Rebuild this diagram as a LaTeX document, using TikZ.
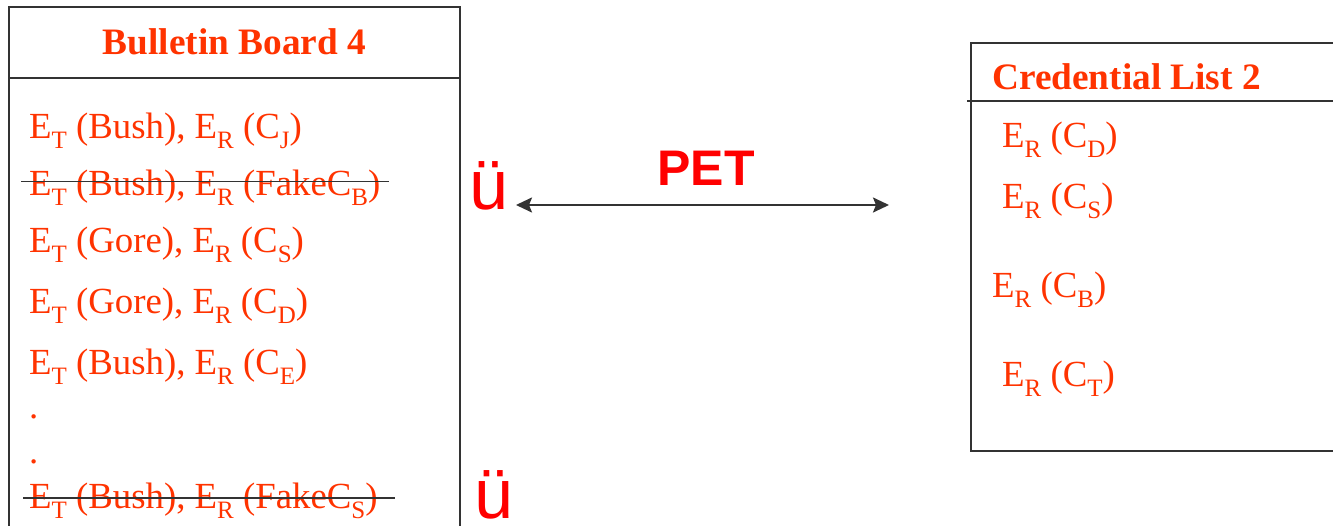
\documentclass[tikz,border=0pt]{standalone}
\usepackage{fontspec}
\setmainfont{Liberation Serif}
\newfontfamily\arialfont{Liberation Sans}
\usetikzlibrary{arrows.meta}
\definecolor{txtred}{HTML}{FF3300}
\definecolor{pure}{HTML}{FF0000}
\definecolor{ink}{HTML}{333333}
% lowered, smaller subscript as in slide text
\newcommand\lowsub[1]{\raisebox{-10pt}{\fontsize{25}{25}\selectfont #1}}
\begin{document}
\begin{tikzpicture}[x=1pt,y=-1pt,
  entry/.style={anchor=base west, inner sep=0pt, text=txtred, font=\fontsize{36.8}{36.8}\selectfont},
  heading/.style={anchor=base west, inner sep=0pt, text=txtred, font=\fontsize{37.3}{37.3}\selectfont\bfseries},
  frame/.style={draw=ink, line width=1.8pt},
  strike/.style={draw=ink, line width=1.8pt},
  okmark/.style={anchor=base west, inner sep=0pt, text=pure, font=\arialfont\fontsize{70}{70}\selectfont},
  link/.style={draw=ink, line width=2.2pt, {Stealth[length=16pt,width=15pt,inset=3pt]}-{Stealth[length=16pt,width=15pt,inset=3pt]}}
]
\useasboundingbox (0,0) rectangle (1333,525);
\clip (0,0) rectangle (1333,525);

% bulletin board box (runs off the bottom edge)
\draw[frame] (9,7) rectangle (460,540);
\draw[frame] (9,78) -- (460,78);
\node[heading, anchor=base] (bbtitle) at (234.5,54) {Bulletin Board 4};

\node[entry] (b1) at (29,138) {E\lowsub{T} (Bush), E\lowsub{R} (C\lowsub{J})};
\node[entry] (b2) at (29,195) {E\lowsub{T} (Bush), E\lowsub{R} (FakeC\lowsub{B})};
\node[entry] (b3) at (29,252) {E\lowsub{T} (Gore), E\lowsub{R} (C\lowsub{S})};
\node[entry] (b4) at (29,313) {E\lowsub{T} (Gore), E\lowsub{R} (C\lowsub{D})};
\node[entry] (b5) at (29,374) {E\lowsub{T} (Bush), E\lowsub{R} (C\lowsub{E})};
\node[entry] (d1) at (29,418) {.};
\node[entry] (d2) at (29,463) {.};
\node[entry] (b6) at (29,508) {E\lowsub{T} (Bush), E\lowsub{R} (FakeC\lowsub{S})};

% struck-out fake credentials
\draw[strike] (21,181.5) -- (389,181.5);
\draw[strike] (23,498) -- (395,498);

% check marks
\node[okmark] (ok1) at (469,209) {ü};
\node[okmark] (ok2) at (474,518) {ü};

% plaintext equivalence test
\coordinate (pl) at (516,205);
\coordinate (pr) at (889,205);
\draw[link] (pl) -- (pr);
\node[anchor=base, inner sep=0pt, text=pure, font=\arialfont\bfseries\fontsize{50}{50}\selectfont] (pet) at (706,185) {PET};

% credential list box (runs off the right edge)
\draw[frame] (1345,43) -- (971,43) -- (971,451) -- (1345,451);
\draw[frame] (967,101) -- (1345,101);
\node[heading] (cltitle) at (992,89) {Credential List 2};

\node[entry] (c1) at (1002,147) {E\lowsub{R} (C\lowsub{D})};
\node[entry] (c2) at (1002,208) {E\lowsub{R} (C\lowsub{S})};
\node[entry] (c3) at (992,297) {E\lowsub{R} (C\lowsub{B})};
\node[entry] (c4) at (1002,386) {E\lowsub{R} (C\lowsub{T})};
\end{tikzpicture}
\end{document}
